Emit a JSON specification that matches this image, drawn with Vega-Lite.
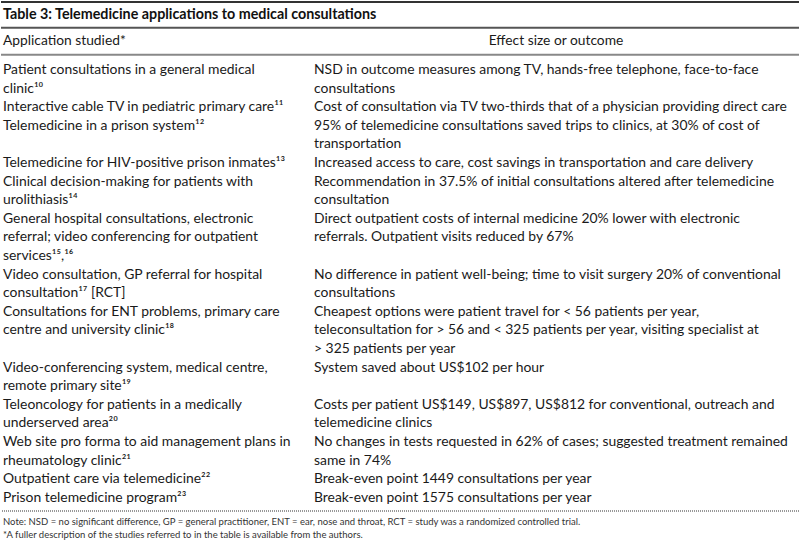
{
  "$schema": "https://vega.github.io/schema/vega-lite/v6.json",
  "width": 800,
  "height": 540,
  "autosize": {"type": "fit", "contains": "padding"},
  "padding": 0,
  "background": "white",
  "config": {"view": {"stroke": null}},
  "datasets": {
    "body": [
      {"col": "L", "line": 1, "text": "Patient consultations in a general medical"},
      {"col": "L", "line": 2, "text": "clinic¹⁰"},
      {"col": "L", "line": 3, "text": "Interactive cable TV in pediatric primary care¹¹"},
      {"col": "L", "line": 4, "text": "Telemedicine in a prison system¹²"},
      {"col": "L", "line": 6, "text": "Telemedicine for HIV-positive prison inmates¹³"},
      {"col": "L", "line": 7, "text": "Clinical decision-making for patients with"},
      {"col": "L", "line": 8, "text": "urolithiasis¹⁴"},
      {"col": "L", "line": 9, "text": "General hospital consultations, electronic"},
      {"col": "L", "line": 10, "text": "referral; video conferencing for outpatient"},
      {"col": "L", "line": 11, "text": "services¹⁵,¹⁶"},
      {"col": "L", "line": 12, "text": "Video consultation, GP referral for hospital"},
      {"col": "L", "line": 13, "text": "consultation¹⁷ [RCT]"},
      {"col": "L", "line": 14, "text": "Consultations for ENT problems, primary care"},
      {"col": "L", "line": 15, "text": "centre and university clinic¹⁸"},
      {"col": "L", "line": 17, "text": "Video-conferencing system, medical centre,"},
      {"col": "L", "line": 18, "text": "remote primary site¹⁹"},
      {"col": "L", "line": 19, "text": "Teleoncology for patients in a medically"},
      {"col": "L", "line": 20, "text": "underserved area²⁰"},
      {"col": "L", "line": 21, "text": "Web site pro forma to aid management plans in"},
      {"col": "L", "line": 22, "text": "rheumatology clinic²¹"},
      {"col": "L", "line": 23, "text": "Outpatient care via telemedicine²²"},
      {"col": "L", "line": 24, "text": "Prison telemedicine program²³"},
      {"col": "R", "line": 1, "text": "NSD in outcome measures among TV, hands-free telephone, face-to-face"},
      {"col": "R", "line": 2, "text": "consultations"},
      {"col": "R", "line": 3, "text": "Cost of consultation via TV two-thirds that of a physician providing direct care"},
      {"col": "R", "line": 4, "text": "95% of telemedicine consultations saved trips to clinics, at 30% of cost of"},
      {"col": "R", "line": 5, "text": "transportation"},
      {"col": "R", "line": 6, "text": "Increased access to care, cost savings in transportation and care delivery"},
      {"col": "R", "line": 7, "text": "Recommendation in 37.5% of initial consultations altered after telemedicine"},
      {"col": "R", "line": 8, "text": "consultation"},
      {"col": "R", "line": 9, "text": "Direct outpatient costs of internal medicine 20% lower with electronic"},
      {"col": "R", "line": 10, "text": "referrals. Outpatient visits reduced by 67%"},
      {"col": "R", "line": 12, "text": "No difference in patient well-being; time to visit surgery 20% of conventional"},
      {"col": "R", "line": 13, "text": "consultations"},
      {"col": "R", "line": 14, "text": "Cheapest options were patient travel for < 56 patients per year,"},
      {"col": "R", "line": 15, "text": "teleconsultation for > 56 and < 325 patients per year, visiting specialist at"},
      {"col": "R", "line": 16, "text": "> 325 patients per year"},
      {"col": "R", "line": 17, "text": "System saved about US$102 per hour"},
      {"col": "R", "line": 19, "text": "Costs per patient US$149, US$897, US$812 for conventional, outreach and"},
      {"col": "R", "line": 20, "text": "telemedicine clinics"},
      {"col": "R", "line": 21, "text": "No changes in tests requested in 62% of cases; suggested treatment remained"},
      {"col": "R", "line": 22, "text": "same in 74%"},
      {"col": "R", "line": 23, "text": "Break-even point 1449 consultations per year"},
      {"col": "R", "line": 24, "text": "Break-even point 1575 consultations per year"}
    ]
  },
  "layer": [
    {
      "data": {"values": [{"line": -2.66, "kind": "top"}]},
      "mark": {"type": "rule", "stroke": "#333333", "strokeWidth": 2},
      "encoding": {"y": {"field": "line", "type": "quantitative", "scale": {"domain": [-2.71, 26.32], "range": [0, 540], "zero": false, "nice": false}, "axis": null}}
    },
    {
      "data": {"values": [{"line": -1.27, "kind": "title"}]},
      "mark": {"type": "rule", "stroke": "#555555", "strokeWidth": 2},
      "encoding": {"y": {"field": "line", "type": "quantitative", "axis": null}}
    },
    {
      "data": {"values": [{"line": 0.18, "kind": "header"}]},
      "mark": {"type": "rule", "stroke": "#888888", "strokeWidth": 2},
      "encoding": {"y": {"field": "line", "type": "quantitative", "axis": null}}
    },
    {
      "data": {"values": [{"line": 24.71, "kind": "bottom"}]},
      "mark": {"type": "rule", "stroke": "#777777", "strokeWidth": 1.5, "strokeDash": [1, 1]},
      "encoding": {"y": {"field": "line", "type": "quantitative", "axis": null}}
    },
    {
      "data": {"values": [{"col": "L", "line": -1.96, "text": "Table 3: Telemedicine applications to medical consultations"}]},
      "mark": {"type": "text", "align": "left", "baseline": "middle", "font": "Lato", "fontSize": 14.3, "fontWeight": "bold", "fill": "#111111"},
      "encoding": {
        "x": {"field": "col", "type": "nominal", "scale": {"type": "point", "domain": ["L", "R"], "range": [2, 313], "padding": 0}, "axis": null},
        "y": {"field": "line", "type": "quantitative", "axis": null},
        "text": {"field": "text"}
      }
    },
    {
      "data": {"values": [{"col": "L", "line": -0.56, "text": "Application studied*"}]},
      "mark": {"type": "text", "align": "left", "baseline": "middle", "font": "Lato", "fontSize": 13.8, "fill": "#1a1a1a"},
      "encoding": {
        "x": {"field": "col", "type": "nominal", "axis": null},
        "y": {"field": "line", "type": "quantitative", "axis": null},
        "text": {"field": "text"}
      }
    },
    {
      "data": {"values": [{"col": "R", "line": -0.56, "text": "Effect size or outcome"}]},
      "mark": {"type": "text", "align": "center", "baseline": "middle", "dx": 242, "font": "Lato", "fontSize": 13.8, "fill": "#1a1a1a"},
      "encoding": {
        "x": {"field": "col", "type": "nominal", "axis": null},
        "y": {"field": "line", "type": "quantitative", "axis": null},
        "text": {"field": "text"}
      }
    },
    {
      "data": {"name": "body"},
      "mark": {"type": "text", "align": "left", "baseline": "middle", "font": "Lato", "fontSize": 13.9, "fill": "#1a1a1a"},
      "encoding": {
        "x": {"field": "col", "type": "nominal", "axis": null},
        "y": {"field": "line", "type": "quantitative", "axis": null},
        "text": {"field": "text"}
      }
    },
    {
      "data": {"values": [
        {"col": "L", "line": 25.3, "text": "Note: NSD = no significant difference, GP = general practitioner, ENT = ear, nose and throat, RCT = study was a randomized controlled trial."},
        {"col": "L", "line": 26.0, "text": "*A fuller description of the studies referred to in the table is available from the authors."}
      ]},
      "mark": {"type": "text", "align": "left", "baseline": "middle", "font": "Lato", "fontSize": 9.5, "fill": "#333333"},
      "encoding": {
        "x": {"field": "col", "type": "nominal", "axis": null},
        "y": {"field": "line", "type": "quantitative", "axis": null},
        "text": {"field": "text"}
      }
    }
  ]
}
